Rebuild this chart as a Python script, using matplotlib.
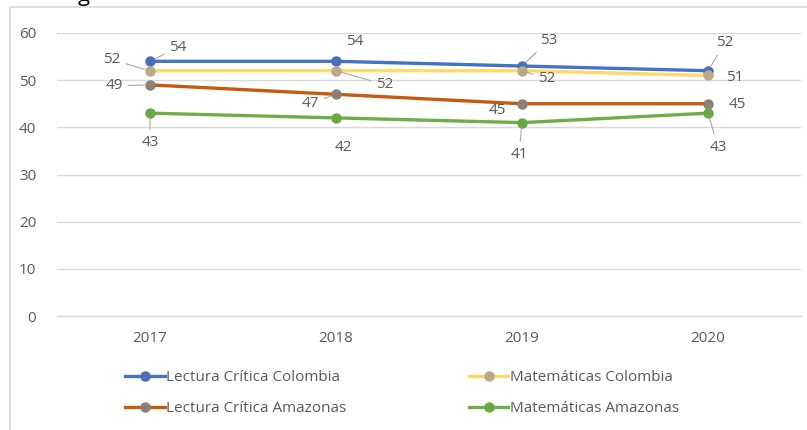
import matplotlib.pyplot as plt
from matplotlib.lines import Line2D

years = ['2017', '2018', '2019', '2020']

lectura_colombia = [54, 54, 53, 52]
matematicas_colombia = [52, 52, 52, 51]
lectura_amazonas = [49, 47, 45, 45]
matematicas_amazonas = [43, 42, 41, 43]

plt.rcParams['font.family'] = ['Open Sans', 'DejaVu Sans']

# (nombre, valores, color línea, color marcador, desplazamientos de etiquetas en px)
series = [
    ('Lectura Crítica Colombia', lectura_colombia, '#4472C4', '#4A6FB5',
     [(28, 14), (19, 20), (27, 26), (17, 28)], [True, False, True, True]),
    ('Lectura Crítica Amazonas', lectura_amazonas, '#C55A11', '#8C7F78',
     [(-36, -1), (-26, -9), (-25, -7), (29, -1)], [True, True, False, False]),
    ('Matemáticas Colombia', matematicas_colombia, '#FFD966', '#B9A98A',
     [(-38, 11), (49, -14), (25, -8), (27, -2)], [True, True, True, False]),
    ('Matemáticas Amazonas', matematicas_amazonas, '#70AD47', '#6AA843',
     [(0, -29), (7, -30), (-3, -32), (10, -34)], [True, False, True, True]),
]

W, H = 807, 430
fig = plt.figure(figsize=(W / 100, H / 100), dpi=100)
ax = fig.add_axes([57 / W, 1 - 316 / H, (801 - 57) / W, (316 - 33) / H])

x = list(range(len(years)))
handles = []
# dibujar en orden para que el amarillo quede debajo del azul
draw_order = [2, 3, 1, 0]
for i in draw_order:
    name, vals, lc, mc, offs, leaders = series[i]
    ax.plot(x, vals, color=lc, lw=2.4, marker='o', ms=6.5,
            markerfacecolor=mc, markeredgecolor=mc, zorder=3 + i, solid_capstyle='round')
    for xi, v, off, ld in zip(x, vals, offs, leaders):
        ap = dict(arrowstyle='-', color='#A6A6A6', lw=0.8, shrinkA=2, shrinkB=4) if ld else None
        ax.annotate(str(v), (xi, v), textcoords='offset pixels', xytext=off,
                    ha='center', va='center', fontsize=11, color='#595959',
                    arrowprops=ap, zorder=10)

for name, vals, lc, mc, offs, leaders in series:
    handles.append(Line2D([0], [0], color=lc, lw=2.4, marker='o', ms=6.5,
                          markerfacecolor=mc, markeredgecolor=mc, label=name))

ax.set_xlim(-0.5, 3.5)
ax.set_ylim(0, 60)
ax.set_yticks(range(0, 61, 10))
ax.set_xticks(x)
ax.set_xticklabels(years)
ax.yaxis.grid(True, color='#D9D9D9', lw=1)
ax.axhline(0, color='#D9D9D9', lw=1, clip_on=False, zorder=1)
ax.set_axisbelow(True)
for s in ax.spines.values():
    s.set_visible(False)
ax.tick_params(length=0, colors='#595959', labelsize=11)
ax.tick_params(axis='x', pad=11)
ax.tick_params(axis='y', pad=15)

fig.legend(handles=handles, ncol=2, loc='center', bbox_to_anchor=(402 / W, 1 - 393 / H),
           frameon=False, fontsize=11, labelcolor='#595959', handlelength=2.6,
           handletextpad=0.1, columnspacing=8.0, labelspacing=1.05)

# borde del área del gráfico
fig.add_artist(Line2D([10 / W, 10 / W], [0, 1 - 7 / H], transform=fig.transFigure,
                      color='#D9D9D9', lw=1.2))
fig.add_artist(Line2D([10 / W, 1], [1 - 7 / H, 1 - 7 / H], transform=fig.transFigure,
                      color='#D9D9D9', lw=1.2))
# resto del título recortado en la captura
fig.text(84 / W, 1 + 4 / H, 'g', fontsize=16, color='black', ha='center', va='center')

fig.savefig('out.png', dpi=100)
